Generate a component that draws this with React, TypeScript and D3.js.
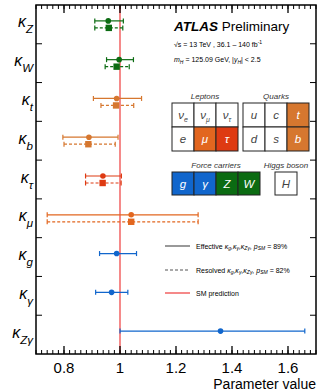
import React from 'react';
import * as d3 from 'd3';

// coupling modifiers, top to bottom
const params = ['Z', 'W', 't', 'b', 'τ', 'μ', 'g', 'γ', 'Zγ'];

// effective model (solid, dots)
const effVal = [0.958, 0.997, 0.988, 0.889, 0.939, 1.04, 0.988, 0.970, 1.359];
const effLo = [0.91, 0.952, 0.905, 0.796, 0.877, 0.74, 0.927, 0.913, 1.0];
const effHi = [1.012, 1.048, 1.077, 0.993, 1.005, 1.279, 1.059, 1.028, 1.66];

// resolved model (dashed, squares) - only first six
const resVal = [0.96, 0.988, 0.986, 0.887, 0.938, 1.04];
const resLo = [0.91, 0.947, 0.932, 0.80, 0.877, 0.74];
const resHi = [1.01, 1.033, 1.049, 0.983, 1.004, 1.279];

const xTickLabels = ['0.8', '1', '1.2', '1.4', '1.6'];

// particle table
const leptonsTop = [['ν', 'e'], ['ν', 'μ'], ['ν', 'τ']];
const leptonsBot = [['e', ''], ['μ', ''], ['τ', '']];
const quarksTop = [['u', ''], ['c', ''], ['t', '']];
const quarksBot = [['d', ''], ['s', ''], ['b', '']];
const carriers = [['g', ''], ['γ', ''], ['Z', ''], ['W', '']];

const GREEN = '#0b6b12';
const ORANGE = '#d6772f';
const MUCOL = '#e2661f';
const TAUCOL = '#de3a12';
const BLUE = '#1166cc';

const rowColor: Record<string, string> = {
  Z: GREEN, W: GREEN, t: ORANGE, b: ORANGE, 'τ': TAUCOL, 'μ': MUCOL,
  g: BLUE, 'γ': BLUE, 'Zγ': BLUE,
};
const boxColor: Record<string, string> = {
  t: ORANGE, b: ORANGE, 'μ': MUCOL, 'τ': TAUCOL, g: BLUE, 'γ': BLUE, Z: GREEN, W: GREEN,
};

const FONT = 'Liberation Sans, Arial, Helvetica, sans-serif';

const x = d3.scaleLinear().domain([0.7, 1.7]).range([36, 316]);
const y = d3.scaleBand<string>().domain(params).range([5, 354]);

const ErrBar = ({ v, lo, hi, cy, color, dashed }: any) => (
  <g stroke={color} strokeWidth={1.2}>
    <line x1={x(lo)} x2={x(hi)} y1={cy} y2={cy} strokeDasharray={dashed ? '3,2' : undefined} />
    <line x1={x(lo)} x2={x(lo)} y1={cy - 2.5} y2={cy + 2.5} />
    <line x1={x(hi)} x2={x(hi)} y1={cy - 2.5} y2={cy + 2.5} />
    {dashed ? (
      <rect x={x(v) - 3.2} y={cy - 3.2} width={6.4} height={6.4} fill={color} stroke="none" />
    ) : (
      <circle cx={x(v)} cy={cy} r={2.8} fill={color} stroke="none" />
    )}
  </g>
);

const Box = ({ x0, y0, w, h, item }: any) => {
  const [s, sub] = item;
  const fill = boxColor[s] && !sub ? boxColor[s] : '#fff';
  const tc = fill === '#fff' ? '#444' : '#fff';
  return (
    <g>
      <rect x={x0} y={y0} width={w} height={h} fill={fill} stroke="#222" strokeWidth={1} />
      <text x={x0 + w / 2} y={y0 + h / 2 + 4} textAnchor="middle" fontSize={11.5} fontStyle="italic" fill={tc} fontFamily={FONT}>
        {s}
        {sub ? <tspan fontSize={7} dy={2.5}>{sub}</tspan> : null}
      </text>
    </g>
  );
};

const App = () => {
  const minor = x.ticks(50);
  const major = x.ticks(5);
  const bounds = params.slice(1).map((p) => y(p) as number);
  const bw = y.bandwidth();
  const bx = 22, bh = 24;

  return (
    <svg width={321} height={392} style={{ position: 'fixed', left: 0, top: 0, background: '#fff' }} fontFamily={FONT}>
      {/* SM line */}
      <line x1={x(1)} x2={x(1)} y1={5} y2={354} stroke="#ef3b3b" strokeWidth={1.4} opacity={0.85} />

      {/* points */}
      {params.map((p, i) => {
        const c = (y(p) as number) + bw / 2;
        return (
          <g key={p}>
            <ErrBar v={effVal[i]} lo={effLo[i]} hi={effHi[i]} cy={c - 3.5} color={rowColor[p]} />
            {i < resVal.length && (
              <ErrBar v={resVal[i]} lo={resLo[i]} hi={resHi[i]} cy={c + 3.5} color={rowColor[p]} dashed />
            )}
          </g>
        );
      })}

      {/* frame */}
      <rect x={36} y={5} width={280} height={349} fill="none" stroke="#000" strokeWidth={1.5} />
      {minor.map((t) => (
        <g key={'m' + t} stroke="#000" strokeWidth={1}>
          <line x1={x(t)} x2={x(t)} y1={354} y2={350} />
          <line x1={x(t)} x2={x(t)} y1={5} y2={9} />
        </g>
      ))}
      {major.map((t) => (
        <g key={'M' + t} stroke="#000" strokeWidth={1.3}>
          <line x1={x(t)} x2={x(t)} y1={354} y2={346} />
          <line x1={x(t)} x2={x(t)} y1={5} y2={13} />
        </g>
      ))}
      {bounds.map((b) => (
        <g key={'b' + b} stroke="#000" strokeWidth={1}>
          <line x1={36} x2={42} y1={b} y2={b} />
          <line x1={316} x2={310} y1={b} y2={b} />
        </g>
      ))}
      {major.map((t, i) => (
        <text key={'l' + t} x={x(t)} y={373} textAnchor="middle" fontSize={15}>{xTickLabels[i]}</text>
      ))}
      <text x={316} y={389} textAnchor="end" fontSize={14}>Parameter value</text>

      {/* y labels */}
      {params.map((p) => {
        const c = (y(p) as number) + bw / 2;
        return (
          <text key={'y' + p} x={33} y={c + 3} textAnchor="end" fontSize={16} fontStyle="italic">
            κ<tspan fontSize={11.5} dy={6}>{p}</tspan>
          </text>
        );
      })}

      {/* ATLAS label */}
      <text x={174} y={31} fontSize={13.5}>
        <tspan fontWeight="bold" fontStyle="italic">ATLAS</tspan> Preliminary
      </text>
      <text x={174} y={47} fontSize={7}>
        √s = 13 TeV  , 36.1 – 140 fb<tspan fontSize={5} dy={-3}>-1</tspan>
      </text>
      <text x={174} y={62} fontSize={7}>
        <tspan fontStyle="italic">m</tspan><tspan fontSize={5} dy={2} fontStyle="italic">H</tspan>
        <tspan dy={-2}> = 125.09 GeV, |</tspan><tspan fontStyle="italic">y</tspan>
        <tspan fontSize={5} dy={2} fontStyle="italic">H</tspan><tspan dy={-2}>| &lt; 2.5</tspan>
      </text>

      {/* particle table */}
      <text x={172 + 1.5 * bx} y={99} textAnchor="middle" fontSize={8} fontStyle="italic" fill="#333">Leptons</text>
      <text x={243 + 1.5 * bx} y={99} textAnchor="middle" fontSize={8} fontStyle="italic" fill="#333">Quarks</text>
      {leptonsTop.map((it, i) => <Box key={'lt' + i} x0={172 + i * bx} y0={103} w={bx} h={bh} item={it} />)}
      {leptonsBot.map((it, i) => <Box key={'lb' + i} x0={172 + i * bx} y0={127} w={bx} h={bh} item={it} />)}
      {quarksTop.map((it, i) => <Box key={'qt' + i} x0={243 + i * bx} y0={103} w={bx} h={bh} item={it} />)}
      {quarksBot.map((it, i) => <Box key={'qb' + i} x0={243 + i * bx} y0={127} w={bx} h={bh} item={it} />)}
      <text x={172 + 2 * bx} y={168} textAnchor="middle" fontSize={8} fontStyle="italic" fill="#333">Force carriers</text>
      <text x={286} y={168} textAnchor="middle" fontSize={8} fontStyle="italic" fill="#333">Higgs boson</text>
      {carriers.map((it, i) => <Box key={'fc' + i} x0={172 + i * bx} y0={172} w={bx} h={bh - 1} item={it} />)}
      <Box x0={275} y0={172} w={bx} h={bh - 1} item={['H', '']} />

      {/* legend */}
      <line x1={165} x2={190} y1={246} y2={246} stroke="#555" strokeWidth={1.2} />
      <text x={196} y={248.5} fontSize={7}>
        Effective <tspan fontStyle="italic">κ<tspan fontSize={5} dy={1.5}>g</tspan><tspan dy={-1.5}>,κ</tspan><tspan fontSize={5} dy={1.5}>γ</tspan><tspan dy={-1.5}>,κ</tspan><tspan fontSize={5} dy={1.5}>Zγ</tspan><tspan dy={-1.5}>, p</tspan><tspan fontSize={5} dy={1.5}>SM</tspan></tspan><tspan dy={-1.5}> = 89%</tspan>
      </text>
      <line x1={165} x2={190} y1={270} y2={270} stroke="#555" strokeWidth={1.2} strokeDasharray="3,2" />
      <text x={196} y={272.5} fontSize={7}>
        Resolved <tspan fontStyle="italic">κ<tspan fontSize={5} dy={1.5}>g</tspan><tspan dy={-1.5}>,κ</tspan><tspan fontSize={5} dy={1.5}>γ</tspan><tspan dy={-1.5}>,κ</tspan><tspan fontSize={5} dy={1.5}>Zγ</tspan><tspan dy={-1.5}>, p</tspan><tspan fontSize={5} dy={1.5}>SM</tspan></tspan><tspan dy={-1.5}> = 82%</tspan>
      </text>
      <line x1={165} x2={190} y1={293} y2={293} stroke="#ef3b3b" strokeWidth={1.2} />
      <text x={196} y={295.5} fontSize={7}>SM prediction</text>
    </svg>
  );
};

export default App;
